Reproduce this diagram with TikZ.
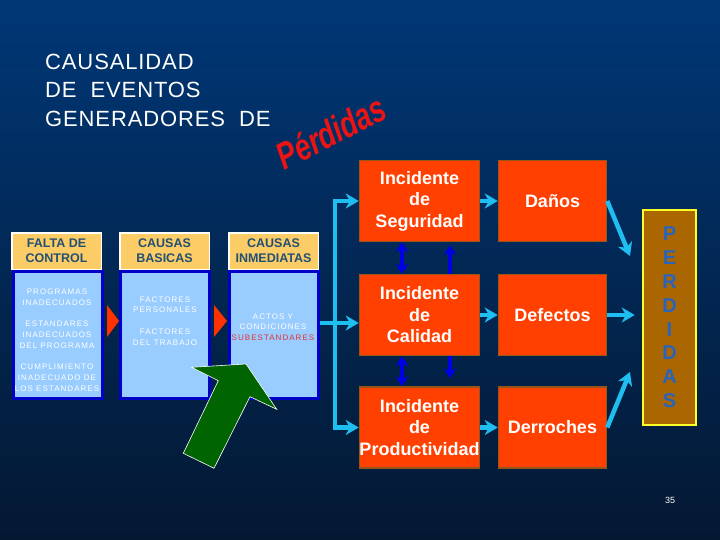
\documentclass[tikz,border=0pt]{standalone}
\usepackage{fontspec}
\setmainfont{Liberation Sans}
\newfontfamily\spacedfont[LetterSpace=13]{Liberation Sans}
\newfontfamily\titlefont[LetterSpace=4]{Liberation Sans}
\usetikzlibrary{arrows.meta}
\definecolor{navytop}{RGB}{0,55,118}
\definecolor{navybot}{RGB}{4,24,50}
\definecolor{hdrfill}{RGB}{252,204,102}
\definecolor{hdrtext}{RGB}{35,80,115}
\definecolor{bodyfill}{RGB}{153,204,255}
\definecolor{bodyline}{RGB}{0,0,200}
\definecolor{incfill}{RGB}{255,64,0}
\definecolor{incline}{RGB}{150,85,25}
\definecolor{cyanarr}{RGB}{30,190,240}
\definecolor{bluearr}{RGB}{0,0,230}
\definecolor{perdfill}{RGB}{170,102,0}
\definecolor{perdline}{RGB}{255,255,40}
\definecolor{perdtext}{RGB}{40,100,190}
\definecolor{trired}{RGB}{255,50,0}
\definecolor{greenarr}{RGB}{0,100,0}
\definecolor{perdred}{RGB}{235,20,20}
\definecolor{subred}{RGB}{230,50,50}
\begin{document}
\begin{tikzpicture}[x=1pt, y=-1pt,
        hdr/.style={draw=white, line width=1.5pt, fill=hdrfill, text=hdrtext, font=\bfseries\fontsize{12.5}{15}\selectfont, align=center, minimum width=89.5pt, minimum height=36.5pt, inner sep=0pt},
        body/.style={draw=bodyline, line width=3pt, fill=bodyfill, minimum width=89pt, minimum height=127pt, inner sep=0pt},
        bodytext/.style={text=white, font=\spacedfont\fontsize{8}{10.7}\selectfont, align=center, inner sep=0pt},
        inc/.style={draw=incline, line width=1.5pt, fill=incfill, text=white, font=\bfseries\fontsize{18}{21.5}\selectfont, align=center, minimum width=120pt, minimum height=81pt, inner sep=0pt},
        cons/.style={inc, minimum width=108pt},
        cyanline/.style={draw=cyanarr, line width=4.5pt, -{Stealth[length=13pt, width=15pt, inset=4pt]}},
        bluedbl/.style={draw=bluearr, line width=4pt, {Stealth[length=10pt, width=13pt]}-{Stealth[length=10pt, width=13pt]}},
        blueone/.style={draw=bluearr, line width=4pt, -{Stealth[length=10pt, width=13pt]}}]
    \useasboundingbox (0,0) rectangle (720,540);
    \shade[top color=navytop, bottom color=navybot] (0,0) rectangle (720,540);
    \node[anchor=north west, inner sep=0pt, text=white, align=left, font=\titlefont\fontsize{22}{28.7}\selectfont] (title) at (45,53.5)
        {CAUSALIDAD\\DE\ \ EVENTOS\\GENERADORES\ \ DE};
    \node[rotate=27, text=perdred, font=\bfseries\itshape\fontsize{34}{34}\selectfont, xscale=0.82, yscale=1.1] (perdidas) at (331,132) {Pérdidas};
    % panels of causes
    \node[body] (body1) at (58,335) {};
    \node[body] (body2) at (164.5,335) {};
    \node[body] (body3) at (273.5,335) {};
    \node[hdr] (hdr1) at (56.5,251) {FALTA DE\\CONTROL};
    \node[hdr] (hdr2) at (164.5,251) {CAUSAS\\BASICAS};
    \node[hdr] (hdr3) at (273.5,251) {CAUSAS\\INMEDIATAS};
    \node[bodytext] (txt1) at (57,340) {PROGRAMAS\\INADECUADOS\\[11pt]ESTANDARES\\INADECUADOS\\DEL PROGRAMA\\[11pt]CUMPLIMIENTO\\INADECUADO DE\\LOS ESTANDARES};
    \node[bodytext] (txt2) at (165,321) {FACTORES\\PERSONALES\\[11pt]FACTORES\\DEL TRABAJO};
    \node[bodytext] (txt3) at (273,327) {ACTOS Y\\CONDICIONES\\\textcolor{subred}{SUBESTANDARES}};
    \fill[trired] (107,305) -- (119,321) -- (107,337) -- cycle;
    \fill[trired] (214,305) -- (227,321) -- (214,337) -- cycle;
    \filldraw[fill=greenarr, draw=white, line width=0.6pt] (191.7,367.3) -- (246,364) -- (276.7,409.3) -- (250,396.7)
        -- (214,468.3) -- (183.3,453.3) -- (218.3,380.7) -- cycle;
    % incidents and losses
    \node[inc] (seg) at (419.5,201) {Incidente\\de\\Seguridad};
    \node[inc] (cal) at (419.5,315) {Incidente\\de\\Calidad};
    \node[inc] (prod) at (419.5,427.5) {Incidente\\de\\Productividad};
    \node[cons] (danos) at (552.5,201) {Daños};
    \node[cons] (defectos) at (552.5,315) {Defectos};
    \node[cons] (derroches) at (552.5,427.5) {Derroches};
    \node[draw=perdline, line width=2.5pt, fill=perdfill, text=perdtext, font=\bfseries\fontsize{20}{23.8}\selectfont, align=center,
        minimum width=53pt, minimum height=215pt, inner sep=0pt] (perd) at (669.5,317.5) {P\\E\\R\\D\\I\\D\\A\\S};
    \coordinate (split) at (335,323);
    \coordinate (hitA) at (630,256);
    \coordinate (hitC) at (630,372);
    \draw[cyanline] (body3.east |- split) -- (cal.west |- split);
    \draw[cyanline] (split) |- (seg.west);
    \draw[cyanline] (split) |- (prod.west);
    \draw[cyanline] (seg) -- (danos);
    \draw[cyanline] (cal) -- (defectos);
    \draw[cyanline] (prod) -- (derroches);
    \draw[cyanline] (danos.east) -- (hitA);
    \draw[cyanline, shorten >=7pt] (defectos.east) -- (defectos.east -| perd.west);
    \draw[cyanline] (derroches.east) -- (hitC);
    \draw[bluedbl] ([xshift=-17.5pt]seg.south) -- ([xshift=-17.5pt]cal.north);
    \draw[bluedbl] ([xshift=-17.5pt]cal.south) -- ([xshift=-17.5pt]prod.north);
    \draw[blueone] ([xshift=30.5pt]cal.north) -- ([xshift=30.5pt, yshift=-3pt]seg.south);
    \draw[blueone] ([xshift=30.5pt]cal.south) -- ++(0,22);
    \node[text=white, font=\fontsize{9}{9}\selectfont] (pagenum) at (670,500) {35};
\end{tikzpicture}
\end{document}
